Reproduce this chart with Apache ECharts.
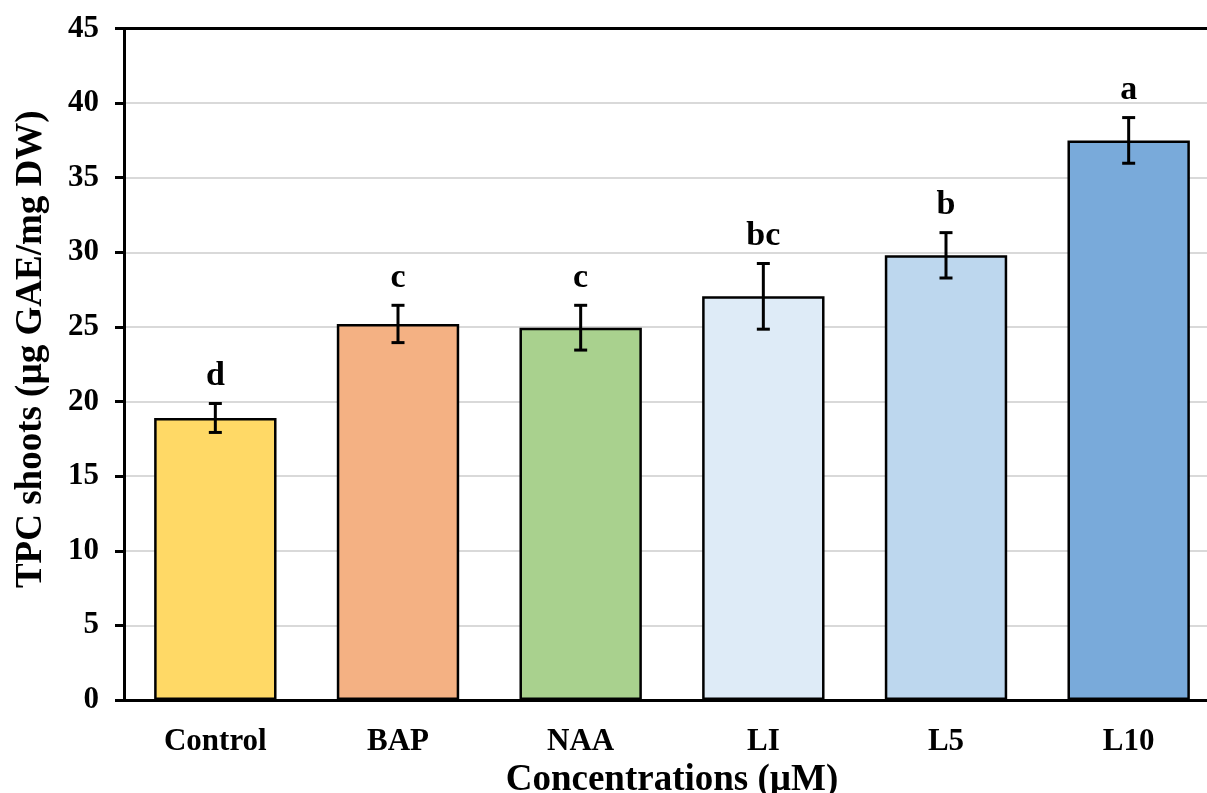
<!DOCTYPE html>
<html><head><meta charset="utf-8">
<script src="https://cdn.jsdelivr.net/npm/echarts@6/dist/echarts.min.js"></script>
<style>html,body{margin:0;padding:0;background:#fff}#c{width:1207px;height:793px}</style>
</head><body><div id="c"></div>
<script>
const categories = ['Control','BAP','NAA','LI','L5','L10'];
const values = [18.9, 25.2, 24.95, 27.05, 29.8, 37.5];
const errors = [0.97, 1.25, 1.5, 2.2, 1.52, 1.53];
const letters = ['d','c','c','bc','b','a'];
const colors = ['#FFD966','#F4B183','#A9D18E','#DEEBF7','#BDD7EE','#79AADA'];
const yTicks = [0,5,10,15,20,25,30,35,40,45];

const FONT = '"Liberation Serif","Times New Roman",serif';
const chart = echarts.init(document.getElementById('c'));
chart.setOption({
  backgroundColor:'#fff',
  animation:false,
  grid:{left:124, width:1096, top:28.5, height:671.5, outerBoundsMode:'none', containLabel:false},
  xAxis:[{
    type:'category', data:categories,
    axisLine:{lineStyle:{color:'#000',width:3}},
    axisTick:{show:false},
    axisLabel:{color:'#000',fontFamily:FONT,fontWeight:'bold',fontSize:31,margin:26},
    name:'Concentrations (µM)', nameLocation:'middle', nameGap:57,
    nameTextStyle:{color:'#000',fontFamily:FONT,fontWeight:'bold',fontSize:37}
  },{
    type:'category', data:categories, position:'top',
    axisLine:{lineStyle:{color:'#000',width:3}},
    axisTick:{show:false}, axisLabel:{show:false}
  }],
  yAxis:{
    type:'value', min:yTicks[0], max:yTicks[yTicks.length-1], interval:5,
    axisLine:{show:true,lineStyle:{color:'#000',width:3}},
    axisTick:{show:true,length:9,lineStyle:{color:'#000',width:3}},
    axisLabel:{color:'#000',fontFamily:FONT,fontWeight:'bold',fontSize:31,margin:25},
    splitLine:{lineStyle:{color:'#d9d9d9',width:2}},
    name:'TPC shoots (µg GAE/mg DW)', nameLocation:'middle', nameGap:74,
    nameTextStyle:{color:'#000',fontFamily:FONT,fontWeight:'bold',fontSize:37,padding:[0,0,0,30]}
  },
  series:[{
    type:'bar', barWidth:'67%',
    data: values.map((v,i)=>({value:v,itemStyle:{color:colors[i]}})),
    itemStyle:{borderColor:'#000',borderWidth:2.5}
  },{
    type:'custom',
    data: values.map((v,i)=>[i,v,errors[i],letters[i]]),
    renderItem:function(params,api){
      const i=api.value(0), v=api.value(1), e=api.value(2);
      const top=api.coord([i,v+e]), bot=api.coord([i,v-e]);
      const hw=6.5;
      return {type:'group',children:[
        {type:'line',shape:{x1:top[0],y1:top[1],x2:bot[0],y2:bot[1]},style:{stroke:'#000',lineWidth:3}},
        {type:'line',shape:{x1:top[0]-hw,y1:top[1],x2:top[0]+hw,y2:top[1]},style:{stroke:'#000',lineWidth:3}},
        {type:'line',shape:{x1:bot[0]-hw,y1:bot[1],x2:bot[0]+hw,y2:bot[1]},style:{stroke:'#000',lineWidth:3}},
        {type:'text',style:{text:letters[params.dataIndex],x:top[0],y:top[1]-10,align:'center',verticalAlign:'bottom',
          font:'bold 34px '+FONT,fill:'#000'}}
      ]};
    },
    z:10
  }]
});
</script></body></html>
